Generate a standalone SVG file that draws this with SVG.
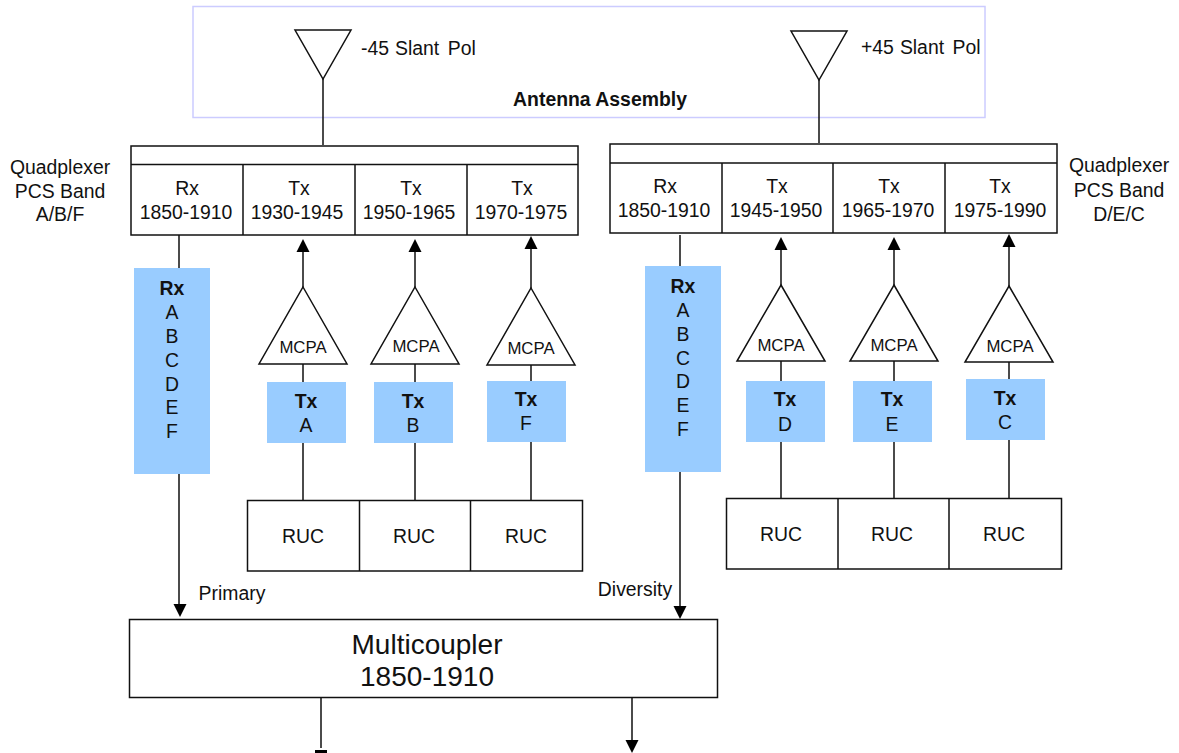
<svg xmlns="http://www.w3.org/2000/svg" width="1179" height="753" viewBox="0 0 1179 753">
<style>
text{font-family:"Liberation Sans",Arial,sans-serif;font-size:19.400px;fill:#111;text-anchor:middle}
.b{font-weight:bold}
.s{font-size:16.800px}
.big{font-size:28px}
.st{text-anchor:start}
.l{fill:#fff;stroke:#111;stroke-width:1.500}
.c{fill:none;stroke:#111;stroke-width:1.500}
.f{fill:#99ccff}
.h{fill:#000}
</style>
<defs>
<path id="up" class="h" d="M0 0L6.500 13H-6.500Z"/>
<path id="dn" class="h" d="M0 0L6.500-13H-6.500Z"/>
</defs>
<g id="antenna-assembly">
<rect x="193" y="6.500" width="792" height="111" fill="none" stroke="#ccccff" stroke-width="1.500"/>
<text x="600" y="106" class="b">Antenna Assembly</text>
</g>
<g id="connectors">
<path class="c" d="M323 79V145M819 80V143"/>
<path class="c" d="M179 235V268M179 473V605"/>
<path class="c" d="M680 235V266M680 471V607"/>
<path class="c" d="M303 287V252M303 364V382M303 442V500"/>
<path class="c" d="M415 287V252M415 364V382M415 442V500"/>
<path class="c" d="M531 288V249M531 365V382M531 441V500"/>
<path class="c" d="M781 285V250M781 361V381M781 441V498"/>
<path class="c" d="M894 285V250M894 361V381M894 441V498"/>
<path class="c" d="M1009 286V247M1009 362V379M1009 439V498"/>
<path class="c" d="M321 698V748M632 698V748"/>
<use href="#up" x="303" y="239"/><use href="#up" x="415" y="239"/><use href="#up" x="531" y="236"/>
<use href="#up" x="781" y="237"/><use href="#up" x="894" y="237"/><use href="#up" x="1009" y="234"/>
<use href="#dn" x="180" y="617"/><use href="#dn" x="680" y="619"/><use href="#dn" x="632" y="753"/>
<path class="h" d="M315 750H327V753H315Z"/>
</g>
<g id="antenna-left"><path class="l" d="M295 30H351L323 79Z"/><text x="361" y="55" class="st" word-spacing="0.600">-45 Slant <tspan dx="2.500">Pol</tspan></text></g>
<g id="antenna-right"><path class="l" d="M791 31H847L819 80Z"/><text x="861" y="54" class="st" word-spacing="0.600">+45 Slant <tspan dx="2.500">Pol</tspan></text></g>
<g id="quadplexer-left">
<rect class="l" x="131" y="146" width="447" height="89"/>
<path class="c" d="M131 164.500H578M243 165V235M355 165V235M467 165V235"/>
<text x="187" y="195">Rx</text><text x="186" y="219">1850-1910</text>
<text x="299" y="195">Tx</text><text x="297" y="219">1930-1945</text>
<text x="411" y="195">Tx</text><text x="409" y="219">1950-1965</text>
<text x="522" y="195">Tx</text><text x="521" y="219">1970-1975</text>
<text x="60" y="174">Quadplexer</text><text x="60" y="198">PCS Band</text><text x="60" y="221">A/B/F</text>
</g>
<g id="quadplexer-right">
<rect class="l" x="610" y="144" width="447" height="89"/>
<path class="c" d="M610 163H1057M722 163V233M833 163V233M945 163V233"/>
<text x="665" y="193">Rx</text><text x="664" y="217">1850-1910</text>
<text x="777" y="193">Tx</text><text x="776" y="217">1945-1950</text>
<text x="889" y="193">Tx</text><text x="888" y="217">1965-1970</text>
<text x="1000" y="193">Tx</text><text x="1000" y="217">1975-1990</text>
<text x="1119" y="172">Quadplexer</text><text x="1119" y="197">PCS Band</text><text x="1119" y="221">D/E/C</text>
</g>
<g id="rx-left"><rect class="f" x="134" y="268" width="76" height="206"/>
<text x="172" y="295" class="b">Rx</text><text x="172" y="319">A</text><text x="172" y="343">B</text><text x="172" y="367">C</text><text x="172" y="391">D</text><text x="172" y="414">E</text><text x="172" y="438">F</text></g>
<g id="rx-right"><rect class="f" x="645" y="266" width="76" height="206"/>
<text x="683" y="293" class="b">Rx</text><text x="683" y="317">A</text><text x="683" y="341">B</text><text x="683" y="365">C</text><text x="683" y="388">D</text><text x="683" y="412">E</text><text x="683" y="436">F</text></g>
<g id="mcpa-1"><path class="l" d="M303 287L347 364H259Z"/><text x="303" y="353" class="s">MCPA</text></g>
<g id="mcpa-2"><path class="l" d="M415 287L459 364H371Z"/><text x="416" y="352" class="s">MCPA</text></g>
<g id="mcpa-3"><path class="l" d="M531 288L575 365H487Z"/><text x="531" y="354" class="s">MCPA</text></g>
<g id="mcpa-4"><path class="l" d="M781 285L825 361H737Z"/><text x="781" y="351" class="s">MCPA</text></g>
<g id="mcpa-5"><path class="l" d="M894 285L938 361H850Z"/><text x="894" y="351" class="s">MCPA</text></g>
<g id="mcpa-6"><path class="l" d="M1009 286L1053 362H965Z"/><text x="1010" y="352" class="s">MCPA</text></g>
<g id="tx-a"><rect class="f" x="267" y="382" width="79" height="61"/><text x="306" y="408" class="b">Tx</text><text x="306" y="432">A</text></g>
<g id="tx-b"><rect class="f" x="374" y="382" width="79" height="61"/><text x="413" y="408" class="b">Tx</text><text x="413" y="432">B</text></g>
<g id="tx-f"><rect class="f" x="487" y="381" width="79" height="61"/><text x="526" y="406" class="b">Tx</text><text x="526" y="430">F</text></g>
<g id="tx-d"><rect class="f" x="746" y="381" width="79" height="61"/><text x="785" y="406" class="b">Tx</text><text x="785" y="431">D</text></g>
<g id="tx-e"><rect class="f" x="853" y="381" width="79" height="61"/><text x="892" y="406" class="b">Tx</text><text x="892" y="431">E</text></g>
<g id="tx-c"><rect class="f" x="966" y="379" width="79" height="61"/><text x="1005" y="405" class="b">Tx</text><text x="1005" y="429">C</text></g>
<g id="ruc-left"><rect class="l" x="247.500" y="500.500" width="335" height="70.500"/><path class="c" d="M359.500 500V571M470.500 500V571"/>
<text x="303" y="543">RUC</text><text x="414" y="543">RUC</text><text x="526" y="543">RUC</text></g>
<g id="ruc-right"><rect class="l" x="726.500" y="498.500" width="335" height="70.500"/><path class="c" d="M838 498V569M949 498V569"/>
<text x="781" y="541">RUC</text><text x="892" y="541">RUC</text><text x="1004" y="541">RUC</text></g>
<g id="multicoupler"><rect class="l" x="129.500" y="619.500" width="588" height="78"/>
<text x="427" y="654" class="big">Multicoupler</text><text x="427" y="686" class="big">1850-1910</text></g>
<text x="232" y="600">Primary</text>
<text x="635" y="596">Diversity</text>
</svg>
